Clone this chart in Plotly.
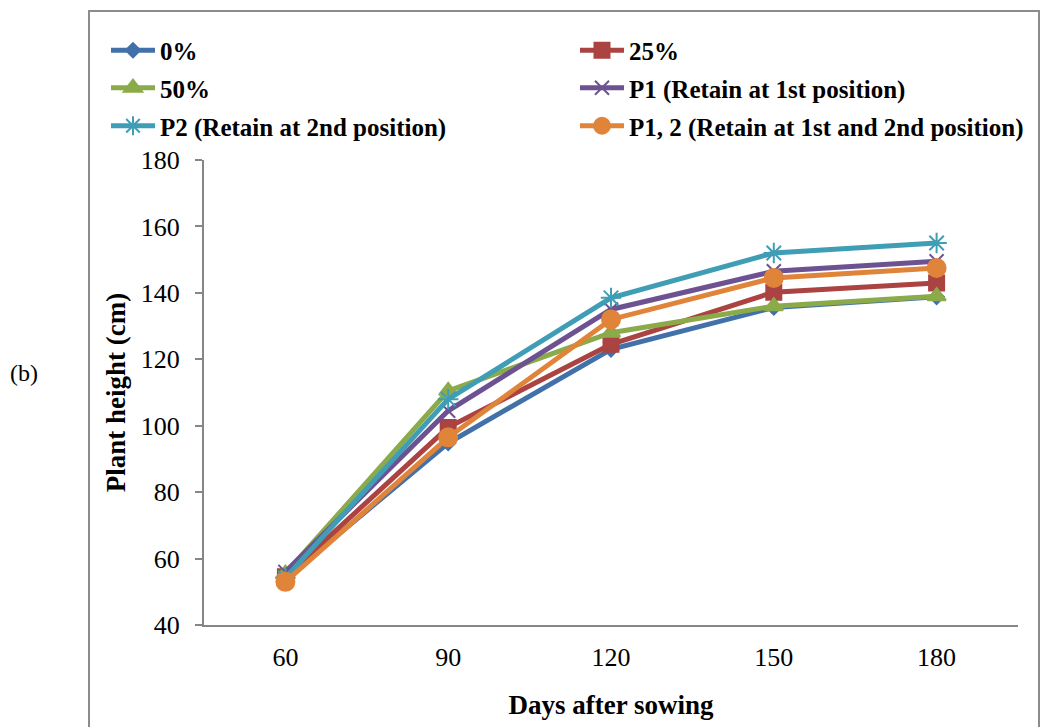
import plotly.graph_objects as go

days = ["60", "90", "120", "150", "180"]
series_names = ["0%", "25%", "50%", "P1 (Retain at 1st position)",
                "P2 (Retain at 2nd position)", "P1, 2 (Retain at 1st and 2nd position)"]
v_0 = [54.0, 94.8, 123.0, 135.6, 138.8]
v_25 = [54.5, 99.5, 124.5, 140.2, 143.0]
v_50 = [55.5, 110.5, 128.0, 136.0, 139.0]
v_p1 = [56.0, 104.5, 135.0, 146.5, 149.5]
v_p2 = [54.2, 108.0, 138.5, 152.0, 155.0]
v_p12 = [53.0, 96.5, 132.0, 144.5, 147.5]
values = [v_0, v_25, v_50, v_p1, v_p2, v_p12]

colors = ["#4271AA", "#AA4341", "#8BAA4A", "#6D5291", "#3F9DB5", "#E0843A"]
symbols = ["diamond", "square", "triangle-up", "x-thin-open", "asterisk-open", "circle"]
sizes = [11, 15, 16, 14, 17, 18]

FONT = "Liberation Serif"
legend_ids = ["legend", "legend2", "legend3", "legend4", "legend5", "legend6"]
# legend grid: two columns, three rows (pixel positions in the page)
leg_cols = [106, 575]
leg_rows = [50.5, 88, 126]

fig = go.Figure()
for i, (name, vals, c, s, sz) in enumerate(zip(series_names, values, colors, symbols, sizes)):
    fig.add_trace(go.Scatter(
        x=days, y=vals, name=name, mode="lines+markers",
        line=dict(color=c, width=5),
        marker=dict(symbol=s, size=sz, color=c, line=dict(color=c, width=2)),
        legend=legend_ids[i], showlegend=True,
    ))

axis_col = "#868686"
leg_layout = {}
for i, lid in enumerate(legend_ids):
    leg_layout[lid] = dict(
        visible=True,
        orientation="h", xref="container", yref="container",
        x=leg_cols[i % 2] / 1041, y=1 - leg_rows[i // 2] / 727,
        xanchor="left", yanchor="middle", itemwidth=44,
        font=dict(family=FONT, size=25, color="black", weight="bold"),
        bgcolor="rgba(0,0,0,0)")

fig.update_layout(
    width=1041, height=727, showlegend=True,
    margin=dict(l=204, r=23, t=160, b=102, autoexpand=False),
    paper_bgcolor="white", plot_bgcolor="white",
    font=dict(family=FONT, color="black"),
    xaxis=dict(type="category", range=[-0.5, 4.5], showgrid=False, zeroline=False,
               showline=True, linecolor=axis_col, linewidth=2, ticks="",
               tickfont=dict(family=FONT, size=26, color="black"),
               ticklabelstandoff=8,
               title=dict(text="Days after sowing", standoff=24,
                          font=dict(family=FONT, size=27, color="black", weight="bold"))),
    yaxis=dict(range=[40, 180], dtick=20, showgrid=False, zeroline=False,
               showline=True, linecolor=axis_col, linewidth=2, ticks="outside",
               ticklen=7, tickcolor=axis_col, tickwidth=1.5,
               tickfont=dict(family=FONT, size=26, color="black"),
               ticklabelstandoff=10,
               title=dict(text="Plant height (cm)", standoff=7,
                          font=dict(family=FONT, size=27, color="black", weight="bold"))),
    shapes=[dict(type="rect", xref="paper", yref="paper",
                 x0=(89 - 204) / 814, x1=(1039 - 204) / 814,
                 y0=(625 - 760) / 465, y1=(625 - 11) / 465,
                 line=dict(color="#8C8C8C", width=2), layer="below")],
    annotations=[dict(text="(b)", xref="paper", yref="paper", xanchor="center",
                      x=(24 - 204) / 814, y=(625 - 373) / 465, showarrow=False,
                      font=dict(family=FONT, size=24, color="black"))],
)
fig.update_layout(**leg_layout)
fig.write_html("out.html")
